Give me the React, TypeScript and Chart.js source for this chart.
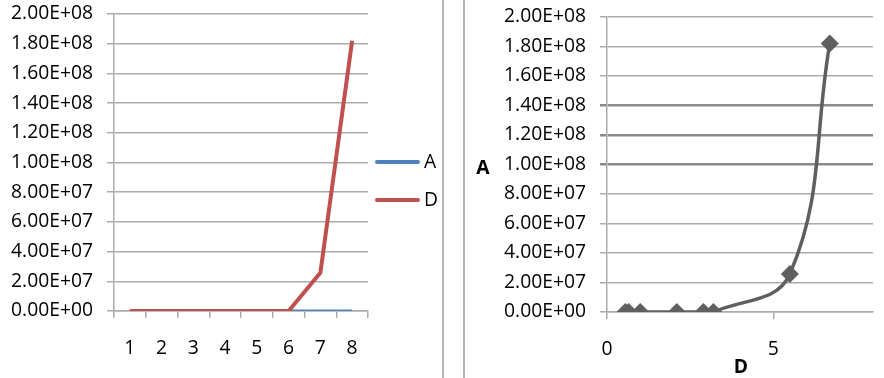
import React, { useEffect, useRef } from "react";
import { Chart, registerables } from "chart.js";

Chart.register(...registerables);

// ---- data ----
const categories = ["1", "2", "3", "4", "5", "6", "7", "8"];
const seriesA = [0.55, 0.65, 1.0, 2.1, 2.9, 3.2, 5.5, 6.7];
const seriesD = [0, 0, 0, 0, 0, 0, 2.58e7, 1.82e8];
const yMax = 2e8;
const yStep = 2e7;
const scatterXTicks = [0, 5];
const scatterXMax = 8;

const FONT = "'Open Sans', sans-serif";
const FS = 19.3;
const GRID = "#ababab";

function sci(v: number): string {
  if (v === 0) return "0.00E+00";
  const e = Math.floor(Math.log10(Math.abs(v)) + 1e-9);
  const m = v / Math.pow(10, e);
  return m.toFixed(2) + "E+" + String(e).padStart(2, "0");
}

const legendPlugin = {
  id: "sideLegend",
  afterDraw(chart: any) {
    const ctx = chart.ctx;
    const items = [
      { label: "A", color: "#4f81bd", y: 162 },
      { label: "D", color: "#c0504d", y: 200 },
    ];
    ctx.save();
    items.forEach((it) => {
      ctx.strokeStyle = it.color;
      ctx.lineWidth = 4;
      ctx.lineCap = "round";
      ctx.beginPath();
      ctx.moveTo(377, it.y);
      ctx.lineTo(418, it.y);
      ctx.stroke();
      ctx.fillStyle = "#000";
      ctx.font = `${FS}px ${FONT}`;
      ctx.textBaseline = "middle";
      ctx.textAlign = "left";
      ctx.fillText(it.label, 424, it.y + 1);
    });
    ctx.restore();
  },
};

const titlePlugin = {
  id: "axisTitles",
  afterDraw(chart: any) {
    const ctx = chart.ctx;
    const area = chart.chartArea;
    ctx.save();
    ctx.fillStyle = "#000";
    ctx.font = `bold ${FS}px ${FONT}`;
    ctx.textAlign = "center";
    ctx.textBaseline = "middle";
    ctx.fillText("A", 17, 169);
    ctx.fillText("D", (area.left + area.right) / 2 + 1, 368);
    ctx.restore();
  },
};

function LineChart() {
  const ref = useRef<HTMLCanvasElement>(null);
  useEffect(() => {
    const chart = new Chart(ref.current!, {
      type: "line",
      data: {
        labels: categories,
        datasets: [
          {
            label: "A",
            data: seriesA,
            borderColor: "#4f81bd",
            borderWidth: 3,
            pointRadius: 0,
            tension: 0,
            order: 2,
          },
          {
            label: "D",
            data: seriesD,
            borderColor: "#c0504d",
            borderWidth: 4,
            pointRadius: 0,
            tension: 0,
            order: 1,
          },
        ],
      },
      options: {
        responsive: false,
        animation: false,
        layout: { padding: { left: 0, right: 72, top: 14, bottom: 0 } },
        plugins: { legend: { display: false }, tooltip: { enabled: false } },
        scales: {
          x: {
            type: "category",
            offset: true,
            grid: {
              offset: true,
              drawOnChartArea: false,
              drawTicks: true,
              tickLength: 7,
              color: GRID,
              lineWidth: 1.5,
            },
            border: { color: GRID, width: 1.5 },
            ticks: { color: "#000", font: { family: FONT, size: FS }, padding: 19, maxRotation: 0 },
            afterFit(scale: any) {
              scale.height = 67;
            },
          },
          y: {
            min: 0,
            max: yMax,
            ticks: {
              stepSize: yStep,
              color: "#000",
              font: { family: FONT, size: FS },
              padding: 14,
              callback: (v: any) => sci(Number(v)),
            },
            grid: { color: GRID, lineWidth: 1.5, tickLength: 7 },
            border: { color: GRID, width: 1.5 },
            afterFit(scale: any) {
              scale.width = 114;
              scale.paddingTop = 0;
              scale.paddingBottom = 0;
            },
          },
        },
      },
      plugins: [legendPlugin],
    } as any);
    return () => chart.destroy();
  }, []);
  return <canvas ref={ref} width={440} height={378} />;
}

function ScatterChart() {
  const ref = useRef<HTMLCanvasElement>(null);
  useEffect(() => {
    const pts = seriesA.map((x, i) => ({ x, y: seriesD[i] }));
    const chart = new Chart(ref.current!, {
      type: "scatter",
      data: {
        datasets: [
          {
            label: "A",
            data: pts,
            showLine: true,
            borderColor: "#5f5f5f",
            backgroundColor: "#5f5f5f",
            borderWidth: 3.5,
            pointStyle: "rectRot",
            pointRadius: 9,
            pointBorderWidth: 0,
            tension: 0.4,
          },
        ],
      },
      options: {
        responsive: false,
        animation: false,
        layout: { padding: { left: 0, right: 11, top: 17, bottom: 0 } },
        plugins: { legend: { display: false }, tooltip: { enabled: false } },
        scales: {
          x: {
            type: "linear",
            min: 0,
            max: scatterXMax,
            afterBuildTicks(scale: any) {
              scale.ticks = scatterXTicks.map((v) => ({ value: v }));
            },
            grid: {
              drawOnChartArea: false,
              drawTicks: true,
              tickLength: 7,
              color: GRID,
              lineWidth: 1.5,
            },
            border: { color: GRID, width: 1.5 },
            ticks: { color: "#000", font: { family: FONT, size: FS }, padding: 19, maxRotation: 0 },
            afterFit(scale: any) {
              scale.height = 66;
              scale.paddingLeft = 0;
              scale.paddingRight = 0;
            },
          },
          y: {
            min: 0,
            max: yMax,
            ticks: {
              stepSize: yStep,
              color: "#000",
              font: { family: FONT, size: FS },
              padding: 14,
              callback: (v: any) => sci(Number(v)),
            },
            grid: {
              color: (c: any) => {
                const v = c.tick ? c.tick.value : 0;
                return v === 1e8 || v === 1.2e8 || v === 1.4e8 ? "#8a8a8a" : GRID;
              },
              lineWidth: (c: any) => {
                const v = c.tick ? c.tick.value : 0;
                return v === 1e8 || v === 1.2e8 || v === 1.4e8 ? 2.5 : 1.5;
              },
              tickLength: 7,
            },
            border: { color: GRID, width: 1.5 },
            afterFit(scale: any) {
              scale.width = 141;
              scale.paddingTop = 0;
              scale.paddingBottom = 0;
            },
          },
        },
      },
      plugins: [titlePlugin],
    } as any);
    return () => chart.destroy();
  }, []);
  return <canvas ref={ref} width={418} height={378} />;
}

export default function App() {
  return (
    <div
      style={{
        position: "fixed",
        left: 0,
        top: 0,
        width: 884,
        height: 378,
        background: "#fff",
        overflow: "hidden",
      }}
    >
      <div style={{ position: "absolute", left: 0, top: 0 }}>
        <LineChart />
      </div>
      <div style={{ position: "absolute", left: 442, top: 0, width: 2, height: 378, background: "#b5b5b5" }} />
      <div style={{ position: "absolute", left: 463, top: 0, width: 2, height: 378, background: "#b5b5b5" }} />
      <div style={{ position: "absolute", left: 466, top: 0 }}>
        <ScatterChart />
      </div>
    </div>
  );
}
